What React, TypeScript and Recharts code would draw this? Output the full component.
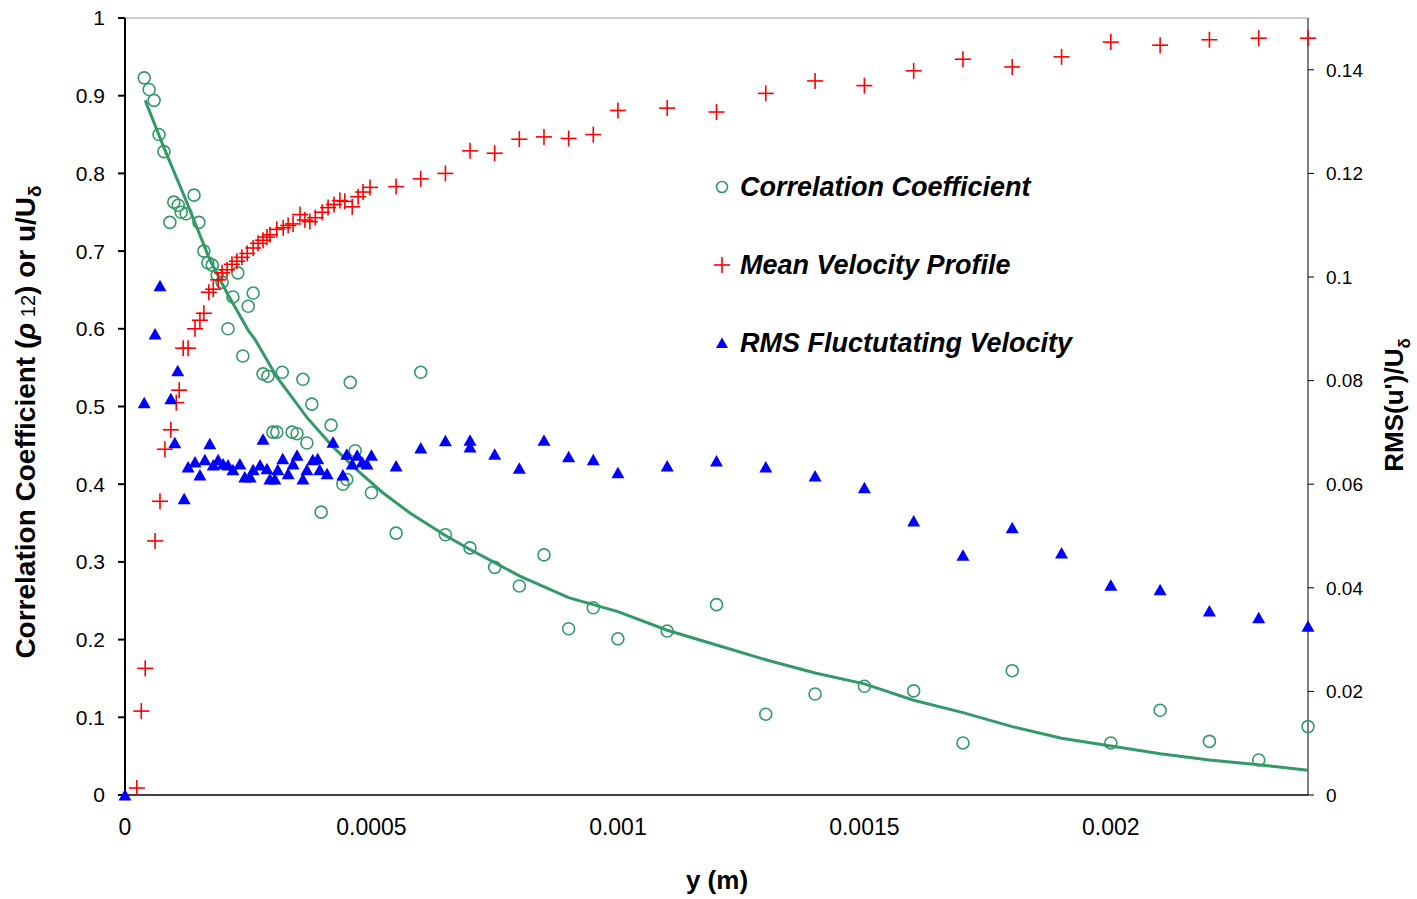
import React from 'react';
import { ComposedChart, Scatter, XAxis, YAxis, ReferenceLine } from 'recharts';

// Correlation coefficient samples: wall distance (m) and rho12
const corrY = [
  3.9e-5, 4.9e-5, 5.9e-5, 6.9e-5, 7.9e-5, 9.1e-5, 9.9e-5, 1.08e-4, 1.14e-4, 1.24e-4,
  1.4e-4, 1.5e-4, 1.6e-4, 1.68e-4, 1.77e-4, 1.87e-4, 1.97e-4, 2.09e-4, 2.19e-4, 2.29e-4,
  2.39e-4, 2.5e-4, 2.6e-4, 2.8e-4, 2.9e-4, 3.0e-4, 3.08e-4, 3.19e-4, 3.39e-4, 3.49e-4,
  3.61e-4, 3.69e-4, 3.79e-4, 3.98e-4, 4.18e-4, 4.42e-4, 4.5e-4, 4.57e-4, 4.67e-4, 5.0e-4,
  5.5e-4, 6.0e-4, 6.5e-4, 7.0e-4, 7.5e-4, 8.0e-4, 8.5e-4, 9.0e-4, 9.5e-4, 1.0e-3,
  1.1e-3, 1.2e-3, 1.3e-3, 1.4e-3, 1.5e-3, 1.6e-3, 1.7e-3, 1.8e-3, 2.0e-3, 2.1e-3,
  2.2e-3, 2.3e-3, 2.4e-3,
];
const corrRho = [
  0.923, 0.908, 0.894, 0.85, 0.828, 0.737, 0.763, 0.759, 0.75, 0.748,
  0.772, 0.737, 0.7, 0.685, 0.682, 0.669, 0.66, 0.6, 0.641, 0.672,
  0.565, 0.629, 0.646, 0.542, 0.539, 0.467, 0.467, 0.544, 0.467, 0.465,
  0.535, 0.453, 0.503, 0.364, 0.476, 0.4, 0.406, 0.531, 0.443, 0.389,
  0.337, 0.544, 0.335, 0.318, 0.293, 0.269, 0.309, 0.214, 0.241, 0.201,
  0.211, 0.245, 0.104, 0.13, 0.14, 0.134, 0.067, 0.16, 0.067, 0.109,
  0.069, 0.045, 0.088,
];

// Trend curve through the correlation data
const fitY = [
  4.1e-5, 8.1e-5, 1.22e-4, 1.72e-4, 2.07e-4, 2.5e-4, 2.64e-4, 3.08e-4, 3.69e-4, 4.22e-4,
  4.71e-4, 5.23e-4, 5.78e-4, 6.5e-4, 7.0e-4, 7.5e-4, 8.0e-4, 9.0e-4, 1.0e-3, 1.1e-3,
  1.2e-3, 1.3e-3, 1.4e-3, 1.5e-3, 1.6e-3, 1.7e-3, 1.8e-3, 1.9e-3, 2.0e-3, 2.1e-3,
  2.2e-3, 2.3e-3, 2.4e-3,
];
const fitRho = [
  0.894, 0.83, 0.768, 0.689, 0.646, 0.598, 0.586, 0.538, 0.486, 0.448,
  0.418, 0.389, 0.363, 0.334, 0.316, 0.299, 0.282, 0.254, 0.236, 0.212,
  0.193, 0.174, 0.157, 0.143, 0.122, 0.106, 0.088, 0.073, 0.063, 0.053,
  0.045, 0.039, 0.032,
];

// Mean velocity profile u/U_delta
const meanY = [
  2.4e-5, 3.3e-5, 4.1e-5, 6.1e-5, 7.1e-5, 8.1e-5, 9.3e-5, 1.04e-4, 1.1e-4, 1.18e-4,
  1.28e-4, 1.42e-4, 1.52e-4, 1.6e-4, 1.7e-4, 1.79e-4, 1.89e-4, 1.97e-4, 2.07e-4, 2.17e-4,
  2.27e-4, 2.37e-4, 2.48e-4, 2.6e-4, 2.7e-4, 2.8e-4, 2.88e-4, 2.94e-4, 3.08e-4, 3.21e-4,
  3.31e-4, 3.41e-4, 3.55e-4, 3.65e-4, 3.75e-4, 3.86e-4, 4.0e-4, 4.12e-4, 4.24e-4, 4.36e-4,
  4.46e-4, 4.61e-4, 4.73e-4, 4.83e-4, 4.97e-4, 5.5e-4, 6.0e-4, 6.5e-4, 7.0e-4, 7.5e-4,
  8.0e-4, 8.5e-4, 9.0e-4, 9.5e-4, 1.0e-3, 1.1e-3, 1.2e-3, 1.3e-3, 1.4e-3, 1.5e-3,
  1.6e-3, 1.7e-3, 1.8e-3, 1.9e-3, 2.0e-3, 2.1e-3, 2.2e-3, 2.3e-3, 2.4e-3,
];
const meanU = [
  0.009, 0.108, 0.163, 0.327, 0.378, 0.445, 0.47, 0.505, 0.521, 0.575,
  0.575, 0.6, 0.611, 0.62, 0.647, 0.651, 0.663, 0.672, 0.676, 0.683,
  0.687, 0.692, 0.697, 0.704, 0.71, 0.714, 0.718, 0.721, 0.728, 0.73,
  0.733, 0.735, 0.747, 0.74, 0.738, 0.743, 0.75, 0.756, 0.76, 0.765,
  0.764, 0.757, 0.77, 0.776, 0.782, 0.783, 0.793, 0.8, 0.829, 0.826,
  0.844, 0.847, 0.845, 0.85, 0.881, 0.884, 0.879, 0.903, 0.919, 0.913,
  0.932, 0.947, 0.937, 0.95, 0.969, 0.965, 0.972, 0.974, 0.974,
];

// RMS fluctuating velocity u'/U_delta (right axis)
const rmsY = [
  0, 3.9e-5, 6.1e-5, 7.1e-5, 9.3e-5, 1.01e-4, 1.07e-4, 1.2e-4, 1.28e-4, 1.42e-4,
  1.52e-4, 1.62e-4, 1.72e-4, 1.79e-4, 1.89e-4, 1.99e-4, 2.09e-4, 2.19e-4, 2.33e-4, 2.43e-4,
  2.54e-4, 2.6e-4, 2.74e-4, 2.8e-4, 2.88e-4, 2.94e-4, 3.04e-4, 3.1e-4, 3.2e-4, 3.31e-4,
  3.41e-4, 3.49e-4, 3.61e-4, 3.69e-4, 3.81e-4, 3.91e-4, 3.95e-4, 4.1e-4, 4.22e-4, 4.42e-4,
  4.5e-4, 4.61e-4, 4.71e-4, 4.81e-4, 4.91e-4, 5.0e-4, 5.5e-4, 6.0e-4, 6.5e-4, 7.0e-4,
  7.0e-4, 7.5e-4, 8.0e-4, 8.5e-4, 9.0e-4, 9.5e-4, 1.0e-3, 1.1e-3, 1.2e-3, 1.3e-3,
  1.4e-3, 1.5e-3, 1.6e-3, 1.7e-3, 1.8e-3, 1.9e-3, 2.0e-3, 2.1e-3, 2.2e-3, 2.3e-3,
  2.4e-3,
];
const rmsU = [
  0, 0.0757, 0.089, 0.0983, 0.0765, 0.068, 0.0819, 0.0572, 0.0633, 0.0643,
  0.0618, 0.0647, 0.0678, 0.0637, 0.0647, 0.0639, 0.0637, 0.0628, 0.0639, 0.0614,
  0.0614, 0.0628, 0.0637, 0.0687, 0.063, 0.061, 0.061, 0.0628, 0.0649, 0.062,
  0.0639, 0.0656, 0.061, 0.0628, 0.0647, 0.0649, 0.0628, 0.062, 0.0681, 0.0618,
  0.0658, 0.0639, 0.0656, 0.0643, 0.0639, 0.0656, 0.0635, 0.067, 0.0684, 0.0685,
  0.0672, 0.0658, 0.0631, 0.0685, 0.0653, 0.0647, 0.0622, 0.0635, 0.0645, 0.0633,
  0.0616, 0.0593, 0.0529, 0.0463, 0.0516, 0.0467, 0.0405, 0.0396, 0.0355, 0.0342,
  0.0326,
];

const xTicks = [0, 0.0005, 0.001, 0.0015, 0.002];
const leftTicks = [0, 0.1, 0.2, 0.3, 0.4, 0.5, 0.6, 0.7, 0.8, 0.9, 1];
const rightTicks = [0, 0.02, 0.04, 0.06, 0.08, 0.1, 0.12, 0.14];

const GREEN = '#339966';
const RED = '#ff0000';
const BLUE = '#0000ff';
const FONT = 'Arial, "Liberation Sans", sans-serif';

const pairs = (xs: number[], ys: number[]) => xs.map((x, i) => ({ x, y: ys[i] }));

const corrData = pairs(corrY, corrRho);
const fitData = pairs(fitY, fitRho);
const meanData = pairs(meanY, meanU);
const rmsData = pairs(rmsY, rmsU);

const Ring = (p: any) => (
  <circle cx={p.cx} cy={p.cy} r={6} fill="none" stroke={GREEN} strokeWidth={1.6} />
);

const Plus = (p: any) => (
  <g stroke={RED} strokeWidth={1.6}>
    <line x1={p.cx - 8} y1={p.cy} x2={p.cx + 8} y2={p.cy} />
    <line x1={p.cx} y1={p.cy - 8} x2={p.cx} y2={p.cy + 8} />
  </g>
);

const Tri = (p: any) => (
  <polygon
    points={`${p.cx},${p.cy - 6} ${p.cx - 6.5},${p.cy + 5.5} ${p.cx + 6.5},${p.cy + 5.5}`}
    fill={BLUE}
  />
);

const NoDot = () => <g />;

const legendRows = [
  { label: 'Correlation Coefficient', top: 187, mark: 'ring' },
  { label: 'Mean Velocity Profile', top: 265, mark: 'plus' },
  { label: 'RMS Fluctutating Velocity', top: 343, mark: 'tri' },
];

const LegendMark = ({ mark }: { mark: string }) => (
  <svg width={20} height={20} style={{ position: 'absolute', left: 712, top: -10 }}>
    {mark === 'ring' && <circle cx={10} cy={10} r={5.5} fill="none" stroke={GREEN} strokeWidth={1.6} />}
    {mark === 'plus' && (
      <g stroke={RED} strokeWidth={1.6}>
        <line x1={2} y1={10} x2={18} y2={10} />
        <line x1={10} y1={2} x2={10} y2={18} />
      </g>
    )}
    {mark === 'tri' && <polygon points="10,4.5 4,15 16,15" fill={BLUE} />}
  </svg>
);

export default function App() {
  return (
    <div style={{ position: 'absolute', left: 0, top: 0, width: 1417, height: 899, background: '#fff', fontFamily: FONT }}>
      <ComposedChart
        width={1417}
        height={899}
        margin={{ top: 18, right: 19, bottom: 44, left: 55 }}
      >
        <XAxis
          type="number"
          dataKey="x"
          domain={[0, 0.0024]}
          ticks={xTicks}
          tickLine={false}
          tickSize={8}
          tickMargin={16}
          height={60}
          stroke="#000"
          strokeWidth={1.5}
          tick={{ fill: '#000', fontSize: 23, fontFamily: FONT }}
        />
        <YAxis
          yAxisId="left"
          type="number"
          dataKey="y"
          domain={[0, 1]}
          ticks={leftTicks}
          width={70}
          tickSize={7}
          tickMargin={13}
          stroke="#000"
          strokeWidth={2}
          tick={{ fill: '#000', fontSize: 21, fontFamily: FONT }}
        />
        <YAxis
          yAxisId="right"
          orientation="right"
          type="number"
          dataKey="y"
          domain={[0, 0.15]}
          ticks={rightTicks}
          width={90}
          tickSize={6}
          tickMargin={12}
          stroke="#000"
          tick={{ fill: '#000', fontSize: 19, fontFamily: FONT }}
        />
        <ReferenceLine yAxisId="left" y={1} stroke="#9a9a9a" strokeWidth={1} />
        <Scatter
          yAxisId="left"
          data={fitData}
          line={{ stroke: GREEN, strokeWidth: 3 }}
          shape={NoDot}
          isAnimationActive={false}
        />
        <Scatter yAxisId="left" data={corrData} shape={Ring} isAnimationActive={false} />
        <Scatter yAxisId="left" data={meanData} shape={Plus} isAnimationActive={false} />
        <Scatter yAxisId="right" data={rmsData} shape={Tri} isAnimationActive={false} />
      </ComposedChart>

      {legendRows.map((r) => (
        <div key={r.label} style={{ position: 'absolute', left: 0, top: r.top }}>
          <LegendMark mark={r.mark} />
          <div
            style={{
              position: 'absolute',
              left: 740,
              top: 0,
              transform: 'translateY(-50%)',
              whiteSpace: 'nowrap',
              fontSize: 27,
              fontWeight: 'bold',
              fontStyle: 'italic',
              lineHeight: 1,
            }}
          >
            {r.label}
          </div>
        </div>
      ))}

      <div
        style={{
          position: 'absolute',
          left: 28,
          top: 422,
          transform: 'translate(-50%, -50%) rotate(-90deg)',
          whiteSpace: 'nowrap',
          fontSize: 28,
          fontWeight: 'bold',
          lineHeight: 1,
        }}
      >
        Correlation Coefficient (<span style={{ fontStyle: 'italic' }}>ρ</span>
        <span style={{ fontSize: 20, fontWeight: 'normal' }}> 12</span>) or u/U<sub style={{ fontSize: 19 }}>δ</sub>
      </div>

      <div
        style={{
          position: 'absolute',
          left: 1397,
          top: 405,
          transform: 'translate(-50%, -50%) rotate(-90deg)',
          whiteSpace: 'nowrap',
          fontSize: 26,
          fontWeight: 'bold',
          lineHeight: 1,
        }}
      >
        RMS(u')/U<sub style={{ fontSize: 17 }}>δ</sub>
      </div>

      <div
        style={{
          position: 'absolute',
          left: 717,
          top: 880,
          transform: 'translate(-50%, -50%)',
          whiteSpace: 'nowrap',
          fontSize: 26,
          fontWeight: 'bold',
          lineHeight: 1,
        }}
      >
        y (m)
      </div>
    </div>
  );
}
